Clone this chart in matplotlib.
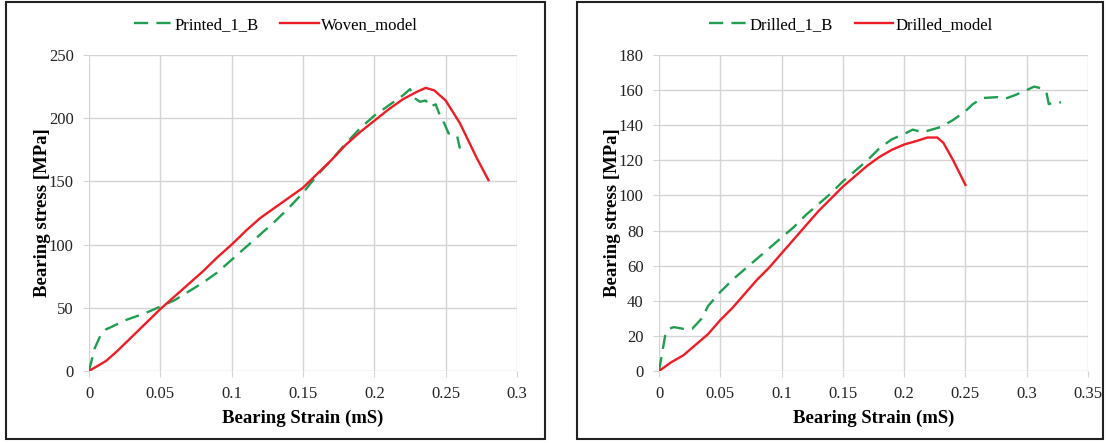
import numpy as np
import matplotlib.pyplot as plt
from matplotlib.patches import Rectangle

plt.rcParams['font.family'] = ['Liberation Serif', 'DejaVu Serif']

# Left panel: printed specimen vs woven model
printed_strain = [0, 0.004, 0.008, 0.012, 0.016, 0.025, 0.04, 0.05, 0.06, 0.07, 0.08, 0.09, 0.1,
                  0.11, 0.12, 0.13, 0.14, 0.15, 0.16, 0.17, 0.18, 0.19, 0.2, 0.21, 0.22, 0.225,
                  0.228, 0.232, 0.236, 0.239, 0.243, 0.246, 0.249, 0.252, 0.255, 0.258, 0.26]
printed_stress = [0, 18, 28, 33, 35, 40, 46, 51, 56, 63, 70, 78, 88,
                  98, 108, 118, 129, 141, 155, 167, 180, 192, 202, 210, 218, 223,
                  216, 213, 214, 209, 211, 202, 196, 188, 187, 186, 176]
woven_strain = [0, 0.012, 0.02, 0.03, 0.04, 0.05, 0.06, 0.07, 0.08, 0.09, 0.1, 0.11, 0.12,
                0.13, 0.14, 0.15, 0.16, 0.17, 0.18, 0.19, 0.2, 0.21, 0.22, 0.23, 0.236,
                0.242, 0.25, 0.26, 0.272, 0.28]
woven_stress = [0, 8, 16, 27, 38, 49, 59, 69, 79, 90, 100, 111, 121,
                129, 137, 145, 156, 167, 179, 189, 198, 207, 215, 221, 224,
                222, 214, 196, 168, 151]

# Right panel: drilled specimen vs drilled model
drilled_strain = [0, 0.005, 0.008, 0.012, 0.02, 0.027, 0.035, 0.04, 0.05, 0.06, 0.07, 0.08, 0.09,
                  0.1, 0.11, 0.12, 0.13, 0.14, 0.15, 0.16, 0.17, 0.18, 0.19, 0.2, 0.207, 0.215,
                  0.23, 0.24, 0.25, 0.256, 0.264, 0.276, 0.282, 0.29, 0.3, 0.306, 0.312, 0.316,
                  0.318, 0.322, 0.328]
drilled_stress = [0, 20, 24, 25, 24, 24, 30, 37, 45, 52, 58, 64, 70,
                  76, 82, 89, 95, 101, 108, 114, 120, 127, 132, 135, 137.5, 136,
                  139, 143, 148, 152, 155.5, 156, 155, 157, 160, 162, 161, 159,
                  152, 153, 153]
dmodel_strain = [0, 0.01, 0.02, 0.03, 0.04, 0.05, 0.06, 0.07, 0.08, 0.09, 0.1, 0.11, 0.12,
                 0.13, 0.14, 0.15, 0.16, 0.17, 0.18, 0.19, 0.2, 0.21, 0.219, 0.227, 0.232,
                 0.24, 0.25]
dmodel_stress = [0, 5, 9, 15, 21, 29, 36, 44, 52, 59, 67, 75, 83,
                 91, 98, 105, 111, 117, 122, 126, 129, 131, 133, 133, 130,
                 120, 106]

green = '#1f9e50'
red = '#ee1c25'

fig = plt.figure(figsize=(11.08, 4.43), dpi=100)
W, H = 1108, 443

def px_axes(x0, x1, y0, y1):
    return fig.add_axes([x0 / W, 1 - y1 / H, (x1 - x0) / W, (y1 - y0) / H])

ax1 = px_axes(89, 517, 55, 371)
ax2 = px_axes(659, 1088, 55, 371)

ax1.plot(printed_strain, printed_stress, color=green, lw=1.7, dashes=(6, 3.5), label='Printed_1_B')
ax1.plot(woven_strain, woven_stress, color=red, lw=1.7, label='Woven_model')
ax1.set_xlim(0, 0.3)
ax1.set_ylim(0, 250)
ax1.set_xticks(np.arange(0, 0.31, 0.05))
ax1.set_xticklabels(['0', '0.05', '0.1', '0.15', '0.2', '0.25', '0.3'])
ax1.set_yticks(np.arange(0, 251, 50))

ax2.plot(drilled_strain, drilled_stress, color=green, lw=1.7, dashes=(6, 3.5), label='Drilled_1_B')
ax2.plot(dmodel_strain, dmodel_stress, color=red, lw=1.7, label='Drilled_model')
ax2.set_xlim(0, 0.35)
ax2.set_ylim(0, 180)
ax2.set_xticks(np.arange(0, 0.351, 0.05))
ax2.set_xticklabels(['0', '0.05', '0.1', '0.15', '0.2', '0.25', '0.3', '0.35'])
ax2.set_yticks(np.arange(0, 181, 20))

for ax, cx in [(ax1, 276), (ax2, 851)]:
    for s in ax.spines.values():
        s.set_visible(False)
    ax.grid(True, color='#d4d4d4', lw=1)
    ax.set_axisbelow(True)
    ax.tick_params(length=4, color='#d4d4d4', labelsize=12, pad=7, labelcolor='#222222')
    ax.set_xlabel('Bearing Strain (mS)', fontsize=13.5, fontweight='bold', labelpad=5)
    ax.set_ylabel('Bearing stress [MPa]', fontsize=13.5, fontweight='bold', labelpad=-1.5)
    ax.legend(loc='center', bbox_to_anchor=(cx / W, 1 - 25 / H), bbox_transform=fig.transFigure,
              ncol=2, frameon=False, fontsize=12, handlelength=2.3, handletextpad=0.15,
              columnspacing=1.3)

# panel borders
for x0, x1 in [(6, 545), (577, 1103)]:
    fig.patches.append(Rectangle((x0 / W, 4 / H), (x1 - x0) / W, (441 - 4) / H,
                                 transform=fig.transFigure, fill=False,
                                 edgecolor='#222222', lw=1.5))

fig.savefig('out.png', dpi=100)
